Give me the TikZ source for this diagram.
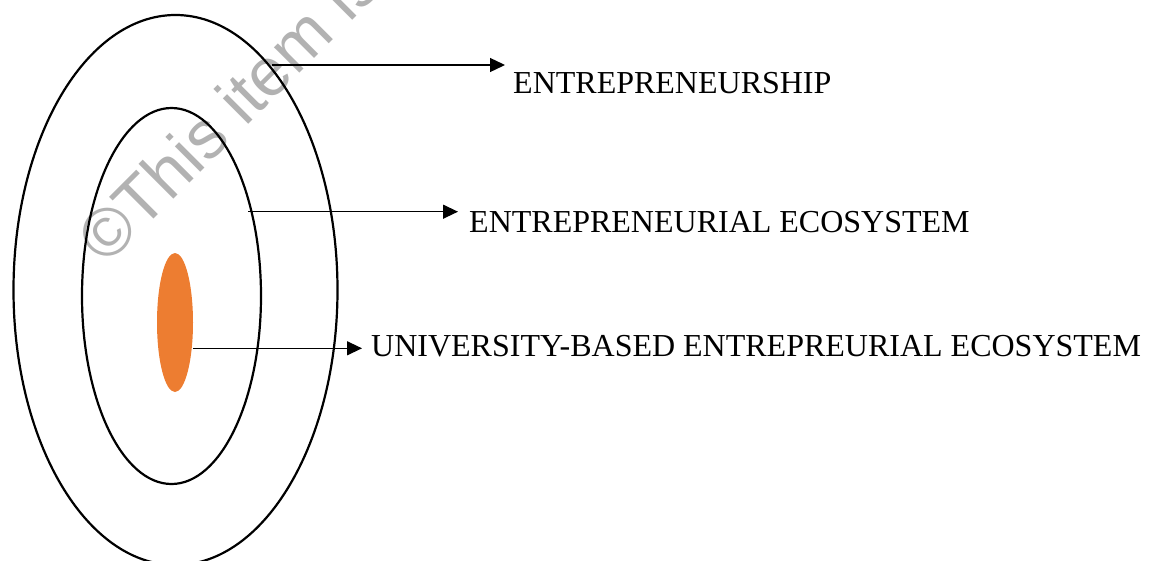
\documentclass[tikz,border=0pt]{standalone}
\usepackage{fontspec}
\setmainfont{Liberation Serif}
\newfontfamily\wmfont{Liberation Sans}
\usetikzlibrary{shapes.geometric,arrows.meta}
\definecolor{coreorange}{HTML}{ED7D31}
\definecolor{wmgray}{RGB}{178,178,178}
\tikzset{
  ring/.style={draw=black, line width=2.2pt, ellipse, inner sep=0pt},
  core/.style={fill=coreorange, draw=none, ellipse, inner sep=0pt},
  pointer/.style={line width=1.3pt, -{Triangle[length=15pt,width=14pt]}},
  label/.style={anchor=base west, inner sep=0pt, font=\fontsize{32}{36}\selectfont},
  stamp/.style={anchor=base west, inner sep=0pt, rotate=45, text=wmgray,
    font=\wmfont\fontsize{68}{72}\selectfont}
}
\begin{document}
\begin{tikzpicture}[x=1pt,y=-1pt]
  \useasboundingbox (0,0) rectangle (1151,560);
  \clip (0,0) rectangle (1151,560);
  % copyright stamp behind the drawing
  \node[stamp] (stamp) at (106,267) {©This item is};
  % nested rings
  \node[ring, minimum width=324pt, minimum height=550pt] (outer) at (175.5,290) {};
  \node[ring, minimum width=179pt, minimum height=376pt] (inner) at (171.5,296) {};
  \node[core, minimum width=36pt, minimum height=139pt] (uni) at (175,322.5) {};
  % labels
  \node[label] (lbl1) at (513,93.3) {ENTREPRENEURSHIP};
  \node[label] (lbl2) at (469,232) {ENTREPRENEURIAL ECOSYSTEM};
  \node[label] (lbl3) at (371,356) {UNIVERSITY-BASED ENTREPREURIAL ECOSYSTEM};
  % pointer ends
  \coordinate (s1) at (272,65);
  \coordinate (e1) at (505,65);
  \coordinate (s2) at (248,211.7);
  \coordinate (e2) at (458,211.7);
  \coordinate (e3) at (362,348.3);
  \draw[pointer] (s1) -- (e1);
  \draw[pointer] (s2) -- (e2);
  \draw[pointer] (uni.east |- e3) -- (e3);
\end{tikzpicture}
\end{document}
